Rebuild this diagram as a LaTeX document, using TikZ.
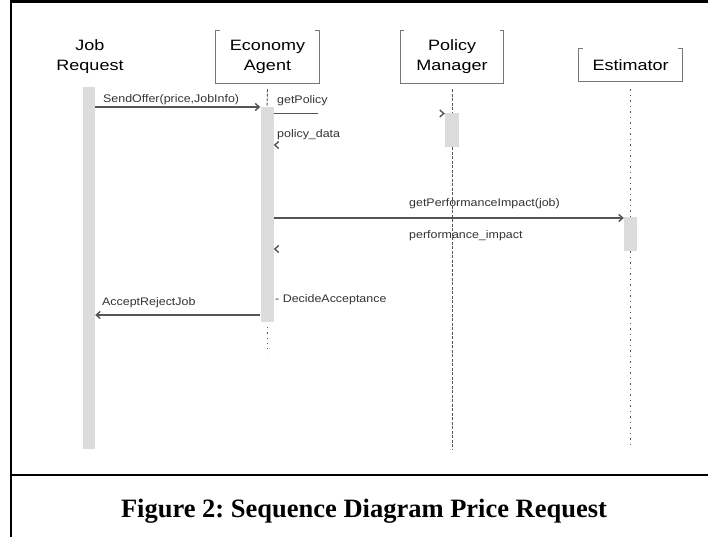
\documentclass[tikz,border=0pt]{standalone}
\usepackage{fontspec}
\setmainfont{Liberation Sans}
\newfontfamily\partfont[FakeStretch=1.2]{Liberation Sans}
\newfontfamily\msgfont[FakeStretch=1.13]{Liberation Sans}
\newfontfamily\capfont{Liberation Serif}
\usepackage{xcolor}
\usetikzlibrary{arrows.meta, positioning, calc}
\definecolor{linegray}{HTML}{555555}
\definecolor{bargray}{HTML}{DCDCDC}
\tikzset{
  part/.style={font=\partfont\fontsize{15}{20}\selectfont, align=center, inner sep=0pt},
  partbox/.style={minimum width=103pt, inner sep=0pt},
  boxline/.style={draw=linegray!80, line width=1pt},
  actbar/.style={fill=bargray, draw=none, inner sep=0pt},
  msg/.style={draw=linegray, line width=1.4pt, -{Straight Barb[length=4pt,width=7pt]}},
  msgline/.style={draw=linegray, line width=1.4pt},
  lbl/.style={font=\msgfont\fontsize{11}{13}\selectfont, inner sep=0pt, anchor=base west, text=black!80},
  life/.style={draw=linegray, line width=0.9pt},
  frame/.style={draw=black, line width=2.5pt},
}
% box with open top, as the participants are drawn
\newcommand{\partframe}[1]{%
  \draw[boxline] ($(#1.north west)+(4,0)$) -- (#1.north west) -- (#1.south west)
    -- (#1.south east) -- (#1.north east) -- ++(-4,0);}

\begin{document}
\begin{tikzpicture}[x=1pt, y=-1pt]
\useasboundingbox (0,0) rectangle (708,537);

% frame and caption
\draw[frame] (11,0) -- (11,537);
\draw[frame] (11,1.5) -- (708,1.5);
\draw[frame] (11,475) -- (708,475);
\node[font=\capfont\bfseries\fontsize{26.5}{30}\selectfont\frenchspacing, anchor=base] (cap) at (364,517)
  {Figure 2: Sequence Diagram Price Request};

% participants
\node[part] (jr) at (90,57) {Job\\Request};
\node[part, partbox, minimum height=52pt] (ea) at (267.5,57) {Economy\\Agent};
\node[part, partbox, minimum height=52pt] (pm) at (452,57) {Policy\\Manager};
\node[part, partbox, minimum height=32pt] (est) at (630.5,65) {Estimator};
\partframe{ea}
\partframe{pm}
\partframe{est}

% activation bars
\node[actbar, minimum width=12pt, minimum height=362pt] (jrBar) at (89,268) {};
\node[actbar, minimum width=13pt, minimum height=215pt] (eaBar) at (267,214.5) {};
\node[actbar, minimum width=14pt, minimum height=34pt] (pmBar) at (452,130) {};
\node[actbar, minimum width=13pt, minimum height=34pt] (estBar) at (630.5,234) {};

% lifelines
\coordinate (lifeEnd) at (0,449);
\draw[life, dash pattern=on 3pt off 1.5pt] ($(ea.south)+(0,6)$) -- (eaBar.north);
\draw[life, dash pattern=on 1.2pt off 4pt] ($(eaBar.south)+(0,5)$) -- ++(0,26);
\draw[life, dash pattern=on 3pt off 1.5pt] ($(pm.south)+(0,6)$) -- (pmBar.north);
\draw[life, dash pattern=on 3pt off 1.5pt] (pmBar.south) -- (pmBar.south |- lifeEnd);
\draw[life, dash pattern=on 1.5pt off 4pt] ($(est.south)+(0,8)$) -- (estBar.north);
\draw[life, dash pattern=on 1.5pt off 4pt] (estBar.south) -- (estBar.south |- lifeEnd);

% messages
\coordinate (m1) at (0,107);
\coordinate (m2) at (0,113.5);
\coordinate (r1) at (0,145);
\coordinate (m3) at (0,218);
\coordinate (r2) at (0,249);
\coordinate (m4) at (0,315);
\draw[msg] (jrBar.east |- m1) -- (eaBar.west |- m1);
\draw[msgline] (eaBar.east |- m2) -- ++(44,0);
\draw[msg] ($(pmBar.west |- m2)+(-1,0)$) -- (pmBar.west |- m2);
\draw[msg] ($(eaBar.east |- r1)+(1,0)$) -- (eaBar.east |- r1);
\draw[msg] (eaBar.east |- m3) -- (estBar.west |- m3);
\draw[msg] ($(eaBar.east |- r2)+(1,0)$) -- (eaBar.east |- r2);
\draw[msg] (eaBar.west |- m4) -- (jrBar.east |- m4);

% labels
\node[lbl] (lSend) at (103,103) {SendOffer(price,JobInfo)};
\node[lbl] (lGetPol) at (277,104) {getPolicy};
\node[lbl] (lPolData) at (277,138) {policy\_data};
\node[lbl] (lGetPerf) at (409,206) {getPerformanceImpact(job)};
\node[lbl] (lPerf) at (409,238) {performance\_impact};
\node[lbl] (lDecide) at (275,302) {- DecideAcceptance};
\node[lbl] (lAccept) at (102,305) {AcceptRejectJob};
\end{tikzpicture}
\end{document}
